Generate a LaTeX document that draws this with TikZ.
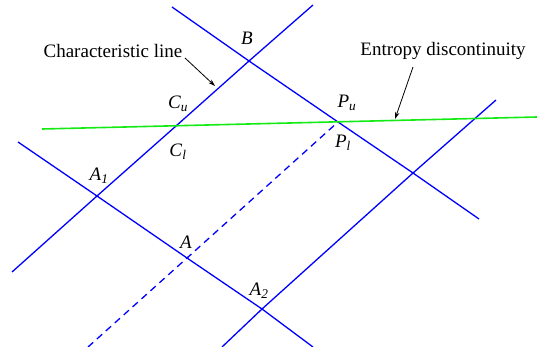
\documentclass[tikz,border=0pt]{standalone}
\usepackage{fontspec}
\setmainfont{Liberation Serif}
\usepackage{tikz}
\usetikzlibrary{ positioning, arrows.meta }
\usepackage{xcolor}
\definecolor{wave}{RGB}{0,0,255}
\definecolor{jump}{RGB}{20,235,20}
\newcommand{\pt}[2]{\textit{#1}\textsubscript{\textit{#2}}}

\begin{document}
\begin{tikzpicture}[
  x=1pt, y=-1pt,
  every node/.style={font=\fontsize{19}{22}\selectfont, inner sep=0pt},
  charline/.style={draw=wave, line width=1.3pt},
  dashline/.style={charline, dash pattern=on 7pt off 5pt},
  entropy/.style={draw=jump, line width=1.6pt},
  pointer/.style={-{Stealth[length=7pt,width=4.5pt]}, line width=0.8pt},
]
  \useasboundingbox (0,0) rectangle (537,347);
  % grid points
  \coordinate (B)  at (249,61);
  \coordinate (C)  at (176,126);
  \coordinate (P)  at (338,122);
  \coordinate (A1) at (97,196);
  \coordinate (A)  at (187,258);
  \coordinate (A2) at (262,309);
  \coordinate (Q)  at (413,173);
  % free ends
  \coordinate (cTop) at (313,5);
  \coordinate (cBot) at (12,272);
  \coordinate (uTop) at (172,7);
  \coordinate (uBot) at (479,219);
  \coordinate (lTop) at (18,142);
  \coordinate (lBot) at (313,347);
  \coordinate (dBot) at (88,347);
  \coordinate (rTop) at (496,100);
  \coordinate (rBot) at (222,347);
  \coordinate (eL) at (42,129);
  \coordinate (eR) at (537,117);

  \draw[charline] (cTop) -- (B) -- (C) -- (A1) -- (cBot);
  \draw[charline] (uTop) -- (B) -- (P) -- (Q) -- (uBot);
  \draw[charline] (lTop) -- (A1) -- (A) -- (A2) -- (lBot);
  \draw[charline] (rBot) -- (A2) -- (Q) -- (rTop);
  \draw[dashline] (dBot) -- (A) -- (P);
  \draw[entropy] (eL) -- (eR);

  \node (lB)  at (247,38)  {\textit{B}};
  \node (lCu) at (178,104) {\pt{C}{u}};
  \node (lCl) at (178,152) {\pt{C}{l}};
  \node (lPu) at (347,103) {\pt{P}{u}};
  \node (lPl) at (343,143) {\pt{P}{l}};
  \node (lA1) at (99,176)  {\pt{A}{1}};
  \node (lA)  at (186,242) {\textit{A}};
  \node (lA2) at (259,291) {\pt{A}{2}};

  \node (charnote) at (113,51) {Characteristic line};
  \node (jumpnote) at (443,51) {Entropy discontinuity};
  \coordinate (charTail) at (185,58);
  \coordinate (charTip) at (215,86);
  \coordinate (jumpTail) at (413,67);
  \coordinate (jumpTip) at (395,119);
  \draw[pointer] (charTail) -- (charTip);
  \draw[pointer] (jumpTail) -- (jumpTip);
\end{tikzpicture}
\end{document}
